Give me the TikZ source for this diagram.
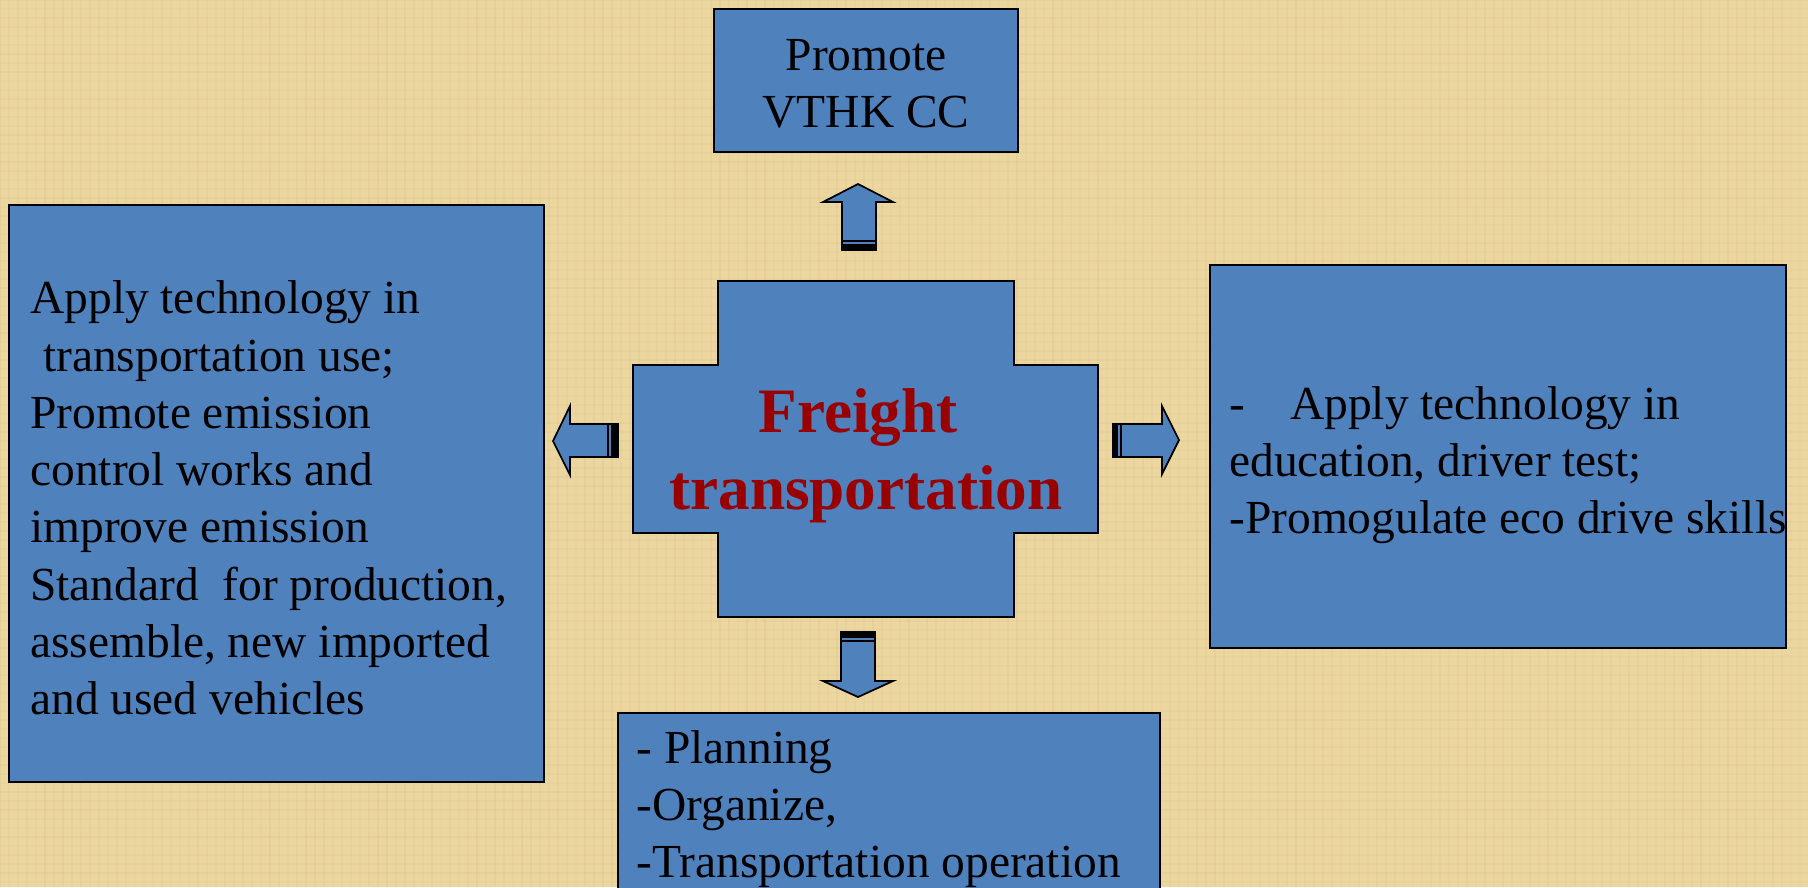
\documentclass[tikz,border=0pt]{standalone}
\usepackage{fontspec}
\setmainfont{Liberation Serif}
\usetikzlibrary{positioning,fit}
\definecolor{boxblue}{RGB}{79,129,189}
\definecolor{freightred}{RGB}{153,0,0}
\definecolor{papyrus}{RGB}{236,214,160}
\definecolor{papyrusdark}{RGB}{205,180,115}

\tikzset{
  bluebox/.style={draw=black, fill=boxblue, line width=1pt, inner sep=0pt},
  boxtext/.style={font=\fontsize{27}{32.6}\selectfont, align=left, inner sep=0pt},
  blockarrow/.style={draw=black, fill=boxblue, line width=1pt, line join=miter},
}

\begin{document}
\begin{tikzpicture}[x=0.02cm,y=-0.02cm]
\useasboundingbox (0,0) rectangle (1808,887);
\clip (0,0) rectangle (1808,887);
% background
\fill[papyrus] (0,0) rectangle (1808,887);
\pgfmathsetseed{7}
\foreach \i in {0,9,...,1808}{
  \pgfmathsetmacro{\op}{0.05+0.12*rnd}
  \draw[papyrusdark, line width=0.6pt, opacity=\op] (\i,0) -- (\i,887);
}
\foreach \j in {0,9,...,887}{
  \pgfmathsetmacro{\op}{0.05+0.12*rnd}
  \draw[papyrusdark, line width=0.6pt, opacity=\op] (0,\j) -- (1808,\j);
}

% boxes
\node[bluebox, fit={(714,9) (1018,152)}] (promote) {};
\node[bluebox, fit={(9,205) (544,782)}] (apply) {};
\node[bluebox, fit={(1210,265) (1786,648)}] (educ) {};
\node[bluebox, fit={(618,713) (1160,900)}] (plan) {};

% centre cross
\draw[bluebox] (718,281) -- (1014,281) -- (1014,365) -- (1098,365) -- (1098,533)
  -- (1014,533) -- (1014,617) -- (718,617) -- (718,533) -- (633,533)
  -- (633,365) -- (718,365) -- cycle;
\node[font=\fontsize{36}{43.6}\selectfont\bfseries, text=freightred, align=center,
  inner sep=0pt] (freight) at (866,456) {Freight\hspace*{0.25em}\\transportation};

% texts
\node[boxtext, align=center] (promotetxt) at (866,84) {Promote\\VTHK CC};
\node[boxtext, anchor=west] (applytxt) at (30,498) {Apply technology in\\
\hspace{0.27em}transportation use;\\
Promote emission\\
control works and\\
improve emission\\
Standard\ \ for production,\\
assemble, new imported\\
and used vehicles};
\node[boxtext, anchor=west] (eductxt) at (1229,465) {-\hspace{0.95em}Apply technology in\\
education, driver test;\\
-Promogulate eco drive skills};
\node[boxtext, anchor=west] (plantxt) at (636,809) {- Planning\\
-Organize,\\
-Transportation operation};

% striped arrows
% up
\draw[blockarrow] (842,241) -- (842,202) -- (823,202) -- (858,184) -- (893,202)
  -- (876,202) -- (876,241) -- cycle;
\draw[blockarrow] (842,241) rectangle (876,245);
\draw[blockarrow, fill=black] (842,245) rectangle (876,250);
% left
\draw[blockarrow] (608,424) -- (570,424) -- (570,406) -- (553,441) -- (570,475)
  -- (570,457) -- (608,457) -- cycle;
\draw[blockarrow] (608,424) rectangle (612,457);
\draw[blockarrow, fill=black] (612,424) rectangle (618,457);
% right
\draw[blockarrow] (1121,424) -- (1162,424) -- (1162,406) -- (1179,440) -- (1162,474)
  -- (1162,457) -- (1121,457) -- cycle;
\draw[blockarrow] (1117,424) rectangle (1121,457);
\draw[blockarrow, fill=black] (1113,424) rectangle (1117,457);
% down
\draw[blockarrow] (841,641) -- (841,681) -- (823,681) -- (858,697) -- (893,681)
  -- (875,681) -- (875,641) -- cycle;
\draw[blockarrow] (841,637) rectangle (875,641);
\draw[blockarrow, fill=black] (841,632) rectangle (875,637);
\end{tikzpicture}
\end{document}
